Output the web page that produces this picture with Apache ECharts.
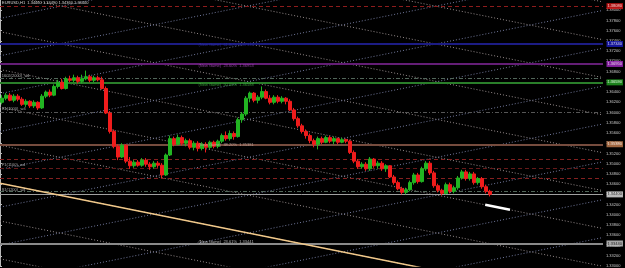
<!DOCTYPE html>
<html>
<head>
<meta charset="utf-8">
<style>
html, body { margin: 0; padding: 0; background: #000; }
#chart { width: 625px; height: 268px; }
</style>
<script src="https://cdn.jsdelivr.net/npm/echarts@6/dist/echarts.min.js"></script>
</head>
<body>
<div id="chart"></div>
<script>
var symbolTitle = 'EURUSD,H1  1.34460 1.34490 1.34360 1.34400';

// H1 bars: open, close, low, high
var ohlc = [
  [1.3620, 1.3628, 1.3616, 1.3634], [1.3628, 1.3634, 1.3624, 1.3638], [1.3634, 1.3624, 1.3622, 1.3638],
  [1.3624, 1.3632, 1.3620, 1.3636], [1.3632, 1.3626, 1.3622, 1.3636], [1.3626, 1.3616, 1.3613, 1.3630],
  [1.3616, 1.3622, 1.3611, 1.3626], [1.3622, 1.3613, 1.3609, 1.3624], [1.3613, 1.3620, 1.3609, 1.3624],
  [1.3620, 1.3609, 1.3605, 1.3622], [1.3609, 1.3632, 1.3607, 1.3636], [1.3632, 1.3640, 1.3628, 1.3643],
  [1.3640, 1.3634, 1.3630, 1.3645], [1.3634, 1.3651, 1.3632, 1.3655], [1.3651, 1.3659, 1.3647, 1.3664],
  [1.3659, 1.3647, 1.3645, 1.3666], [1.3647, 1.3666, 1.3645, 1.3670], [1.3666, 1.3663, 1.3659, 1.3672],
  [1.3663, 1.3668, 1.3659, 1.3674], [1.3668, 1.3661, 1.3657, 1.3672], [1.3661, 1.3666, 1.3657, 1.3674],
  [1.3666, 1.3670, 1.3663, 1.3682], [1.3670, 1.3663, 1.3659, 1.3674], [1.3663, 1.3668, 1.3659, 1.3672],
  [1.3668, 1.3664, 1.3661, 1.3672], [1.3664, 1.3647, 1.3645, 1.3670], [1.3647, 1.3599, 1.3597, 1.3651],
  [1.3599, 1.3563, 1.3559, 1.3603], [1.3563, 1.3534, 1.3530, 1.3567], [1.3534, 1.3513, 1.3507, 1.3538],
  [1.3513, 1.3536, 1.3511, 1.3540], [1.3536, 1.3505, 1.3501, 1.3538], [1.3505, 1.3496, 1.3490, 1.3513],
  [1.3496, 1.3503, 1.3492, 1.3507], [1.3503, 1.3497, 1.3494, 1.3507], [1.3497, 1.3507, 1.3494, 1.3511],
  [1.3507, 1.3499, 1.3494, 1.3511], [1.3499, 1.3494, 1.3488, 1.3503], [1.3494, 1.3501, 1.3490, 1.3505],
  [1.3501, 1.3497, 1.3492, 1.3505], [1.3497, 1.3478, 1.3472, 1.3501], [1.3478, 1.3517, 1.3476, 1.3520],
  [1.3517, 1.3549, 1.3515, 1.3555], [1.3549, 1.3538, 1.3534, 1.3553], [1.3538, 1.3551, 1.3536, 1.3557],
  [1.3551, 1.3540, 1.3536, 1.3555], [1.3540, 1.3545, 1.3534, 1.3549], [1.3545, 1.3532, 1.3528, 1.3549],
  [1.3532, 1.3540, 1.3526, 1.3544], [1.3540, 1.3530, 1.3524, 1.3544], [1.3530, 1.3538, 1.3526, 1.3542],
  [1.3538, 1.3532, 1.3522, 1.3542], [1.3532, 1.3542, 1.3528, 1.3545], [1.3542, 1.3534, 1.3530, 1.3545],
  [1.3534, 1.3544, 1.3530, 1.3547], [1.3544, 1.3555, 1.3540, 1.3559], [1.3555, 1.3549, 1.3545, 1.3563],
  [1.3549, 1.3559, 1.3545, 1.3565], [1.3559, 1.3553, 1.3547, 1.3563], [1.3553, 1.3586, 1.3551, 1.3590],
  [1.3586, 1.3597, 1.3580, 1.3601], [1.3597, 1.3628, 1.3593, 1.3632], [1.3628, 1.3638, 1.3620, 1.3641],
  [1.3638, 1.3624, 1.3620, 1.3640], [1.3624, 1.3630, 1.3618, 1.3634], [1.3630, 1.3641, 1.3626, 1.3651],
  [1.3641, 1.3628, 1.3626, 1.3645], [1.3628, 1.3620, 1.3616, 1.3634], [1.3620, 1.3630, 1.3616, 1.3634],
  [1.3630, 1.3622, 1.3618, 1.3634], [1.3622, 1.3628, 1.3618, 1.3632], [1.3628, 1.3622, 1.3616, 1.3630],
  [1.3622, 1.3605, 1.3603, 1.3626], [1.3605, 1.3588, 1.3584, 1.3609], [1.3588, 1.3574, 1.3570, 1.3592],
  [1.3574, 1.3563, 1.3559, 1.3578], [1.3563, 1.3555, 1.3549, 1.3567], [1.3555, 1.3545, 1.3540, 1.3559],
  [1.3545, 1.3538, 1.3532, 1.3549], [1.3538, 1.3549, 1.3528, 1.3553], [1.3549, 1.3542, 1.3538, 1.3553],
  [1.3542, 1.3551, 1.3540, 1.3555], [1.3551, 1.3544, 1.3540, 1.3555], [1.3544, 1.3549, 1.3538, 1.3553],
  [1.3549, 1.3542, 1.3538, 1.3551], [1.3542, 1.3547, 1.3540, 1.3551], [1.3547, 1.3544, 1.3540, 1.3549],
  [1.3544, 1.3522, 1.3519, 1.3547], [1.3522, 1.3505, 1.3501, 1.3526], [1.3505, 1.3494, 1.3490, 1.3509],
  [1.3494, 1.3499, 1.3490, 1.3503], [1.3499, 1.3490, 1.3486, 1.3503], [1.3490, 1.3509, 1.3486, 1.3513],
  [1.3509, 1.3496, 1.3492, 1.3511], [1.3496, 1.3501, 1.3490, 1.3505], [1.3501, 1.3490, 1.3486, 1.3505],
  [1.3490, 1.3496, 1.3484, 1.3499], [1.3496, 1.3474, 1.3472, 1.3497], [1.3474, 1.3463, 1.3459, 1.3478],
  [1.3463, 1.3451, 1.3448, 1.3467], [1.3451, 1.3444, 1.3440, 1.3455], [1.3444, 1.3449, 1.3440, 1.3453],
  [1.3449, 1.3463, 1.3446, 1.3467], [1.3463, 1.3478, 1.3459, 1.3482], [1.3478, 1.3465, 1.3461, 1.3482],
  [1.3465, 1.3490, 1.3463, 1.3494], [1.3490, 1.3501, 1.3486, 1.3505], [1.3501, 1.3482, 1.3478, 1.3505],
  [1.3482, 1.3457, 1.3453, 1.3486], [1.3457, 1.3448, 1.3444, 1.3461], [1.3448, 1.3442, 1.3438, 1.3451],
  [1.3442, 1.3459, 1.3440, 1.3463], [1.3459, 1.3446, 1.3442, 1.3463], [1.3446, 1.3453, 1.3442, 1.3457],
  [1.3453, 1.3472, 1.3449, 1.3476], [1.3472, 1.3484, 1.3469, 1.3488], [1.3484, 1.3471, 1.3467, 1.3488],
  [1.3471, 1.3480, 1.3467, 1.3484], [1.3480, 1.3463, 1.3459, 1.3484], [1.3463, 1.3471, 1.3459, 1.3474],
  [1.3471, 1.3455, 1.3451, 1.3474], [1.3455, 1.3446, 1.3442, 1.3459], [1.3446, 1.3440, 1.3436, 1.3449]
];

// horizontal levels
var levelPrices = [1.3808, 1.3734, 1.3695, 1.3668, 1.3659, 1.3601, 1.3538, 1.3509, 1.3492, 1.3471, 1.3446, 1.3440, 1.3344];

// fan grid: price of each line at bar 0, change per bar
var fallingStarts = [1.4053, 1.3979, 1.3905, 1.3832, 1.3758, 1.3684, 1.3610, 1.3536, 1.3462, 1.3388, 1.3314];
var risingStarts = [1.3784, 1.3711, 1.3637, 1.3563, 1.3489, 1.3415, 1.3341, 1.3267, 1.3193, 1.3119];
var fanSlope = 0.000157;
var lastBar = 150.75;
var orangeStart = 1.3462;
var whiteStart = 1.3610;
var whiteBars = [121.3, 127.5];

// texts on the chart
var sideNames = ['1602(2000)_w4', 'R1(1000)_w4', 'P1(1100)_w4', 'S1(1200)_w4'];
var sidePrices = [1.3672, 1.3607, 1.3497, 1.3448];
var noteTexts = ['(New Game)  61.80%  1.37336', '(New Game)  23.60%  1.36953', '(New Game)  50.00%  1.36588',
  '(New Game)  38.20%  1.35381', '(New Game)  23.61%  1.33441'];
var notePrices = [1.3733, 1.3691, 1.3655, 1.3537, 1.3348];
var noteBar = 49.5;

var FONT = 'Liberation Sans';

// look of each level, same order as levelPrices
var levelLook = [
  { color: '#8e1c1c', type: [4, 3], width: 1, tag: '#e01818' },
  { color: '#1c1c84', type: 'solid', width: 2, tag: '#1c1cc0' },
  { color: '#641e76', type: 'solid', width: 2, tag: '#a428c4' },
  { color: '#52665a', type: [4, 2, 1, 2], width: 1 },
  { color: '#2a7e2a', type: 'solid', width: 2, tag: '#22a022' },
  { color: '#565656', type: [4, 2, 1, 2], width: 1 },
  { color: '#764c3e', type: 'solid', width: 2, tag: '#c88050' },
  { color: '#842020', type: [4, 3], width: 1 },
  { color: '#661a1a', type: [4, 3], width: 1 },
  { color: '#842020', type: [4, 3], width: 1 },
  { color: '#52685a', type: [4, 2, 1, 2], width: 1 },
  { color: '#a0a0a0', type: 'solid', width: 1, tag: '#e8e8e8', ink: '#000' },
  { color: '#8a8a8a', type: 'solid', width: 2, tag: '#d0d0d0', ink: '#000' }
];
var noteColors = ['#3232a8', '#b050c4', '#44b444', '#d0b8b0', '#dcdcdc'];

function fanLine(start, dir, from, to) {
  return { coords: [[from, start + dir * fanSlope * from], [to, start + dir * fanSlope * to]] };
}

var chart = echarts.init(document.getElementById('chart'));

var levelLines = levelPrices.map(function (p, i) {
  var lk = levelLook[i];
  return { coords: [[0, p], [lastBar, p]], lineStyle: { color: lk.color, type: lk.type, width: lk.width } };
});

var tags = [];
levelPrices.forEach(function (p, i) {
  var lk = levelLook[i];
  if (!lk.tag) return;
  tags.push({
    value: [lastBar, p], name: p.toFixed(5),
    label: { backgroundColor: lk.tag, color: lk.ink || '#fff' }
  });
});

var textItems = [];
sideNames.forEach(function (t, i) {
  textItems.push({ value: [0.3, sidePrices[i]], name: t, label: { color: '#d0d0d0' } });
});
noteTexts.forEach(function (t, i) {
  textItems.push({ value: [noteBar, notePrices[i]], name: t, label: { color: noteColors[i] } });
});

var option = {
  backgroundColor: '#000',
  animation: false,
  title: {
    text: symbolTitle, left: 2, top: 1, padding: 0,
    textStyle: { color: '#d8d8d8', fontSize: 4, fontWeight: 'normal', fontFamily: FONT }
  },
  grid: { left: 0, right: 22, top: 0, height: 271 },
  xAxis: { type: 'value', min: 0, max: lastBar, show: false },
  yAxis: {
    type: 'value', position: 'right', min: 1.3300, max: 1.3820, interval: 0.002,
    axisLine: { show: true, lineStyle: { color: '#b8b8b8' } },
    axisTick: { show: true, length: 2, lineStyle: { color: '#b8b8b8' } },
    axisLabel: {
      color: '#c8c8c8', fontSize: 4, fontFamily: FONT, margin: 3, showMaxLabel: false,
      formatter: function (v) { return v.toFixed(5); }
    },
    splitLine: { show: false }
  },
  series: [
    {
      type: 'lines', coordinateSystem: 'cartesian2d', silent: true, clip: true, z: 1,
      data: fallingStarts.map(function (s) { return fanLine(s, -1, 0, lastBar); }),
      lineStyle: { color: '#948a8a', width: 1, type: [1, 2], opacity: 1 }
    },
    {
      type: 'lines', coordinateSystem: 'cartesian2d', silent: true, clip: true, z: 1,
      data: risingStarts.map(function (s) { return fanLine(s, 1, 0, lastBar); }),
      lineStyle: { color: '#70779a', width: 1, type: [1, 2], opacity: 1 }
    },
    {
      type: 'lines', coordinateSystem: 'cartesian2d', silent: true, clip: true, z: 2,
      data: levelLines,
      lineStyle: { opacity: 1 }
    },
    {
      type: 'lines', coordinateSystem: 'cartesian2d', silent: true, clip: true, z: 2,
      data: [fanLine(orangeStart, -1, 0, lastBar)],
      lineStyle: { color: '#f2c98a', width: 1.5, type: 'solid', opacity: 1 }
    },
    {
      type: 'lines', coordinateSystem: 'cartesian2d', silent: true, clip: true, z: 2,
      data: [fanLine(whiteStart, -1, whiteBars[0], whiteBars[1])],
      lineStyle: { color: '#ffffff', width: 2.5, type: 'solid', opacity: 1 }
    },
    {
      type: 'candlestick', z: 3,
      data: ohlc.map(function (r, i) { return [i + 0.5].concat(r); }),
      encode: { x: 0, y: [1, 2, 3, 4] },
      barWidth: 3,
      itemStyle: { color: '#22b422', color0: '#f01c1c', borderColor: '#22b422', borderColor0: '#f01c1c', borderWidth: 1 }
    },
    {
      type: 'scatter', z: 4, silent: true, symbolSize: 1, clip: false,
      itemStyle: { color: 'rgba(0,0,0,0)' },
      data: textItems,
      label: {
        show: true, position: 'right', distance: 0, fontSize: 4, fontFamily: FONT,
        formatter: function (p) { return p.name; }
      }
    },
    {
      type: 'scatter', z: 6, silent: true, symbolSize: 1, clip: false,
      itemStyle: { color: 'rgba(0,0,0,0)' },
      data: tags,
      label: {
        show: true, position: 'right', distance: 3, fontSize: 4, fontFamily: FONT, padding: [1, 1],
        formatter: function (p) { return p.name; }
      }
    }
  ]
};

chart.setOption(option);
</script>
</body>
</html>
